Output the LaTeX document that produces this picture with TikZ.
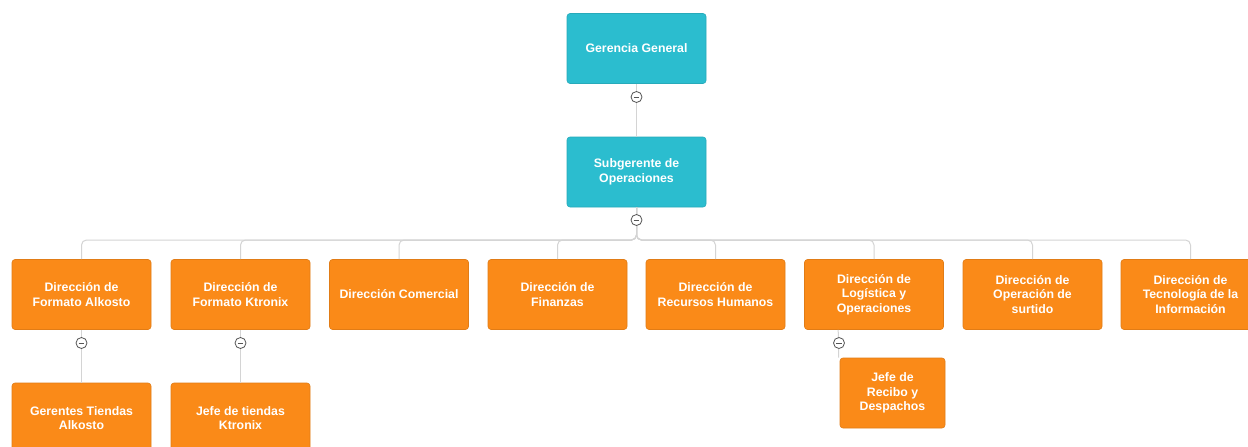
\documentclass[tikz,border=0pt]{standalone}
\usepackage{fontspec}
\setmainfont{Liberation Sans}
\definecolor{teal1}{HTML}{2BBDCF}
\definecolor{orange1}{HTML}{FA8A18}
\definecolor{linec}{HTML}{D4D4D4}
\definecolor{circc}{HTML}{555555}
\tikzset{
  box/.style={rounded corners=3pt, minimum width=139pt, minimum height=70pt, inner sep=2pt,
    align=center, text=white, font=\fontsize{12.3}{14.7}\selectfont\bfseries, line width=0.6pt},
  topbox/.style={box, fill=teal1, draw=teal1!90!black},
  orbox/.style={box, fill=orange1, draw=orange1!90!black},
  conn/.style={draw=linec, line width=1pt},
  tog/.style={circle, draw=circc, fill=white, line width=0.8pt, minimum size=11pt, inner sep=0pt,
    path picture={\draw[circc, line width=0.9pt] ([xshift=-2.8pt]path picture bounding box.center) -- ([xshift=2.8pt]path picture bounding box.center);}}
}
\begin{document}
\begin{tikzpicture}[x=1pt,y=1pt]
\useasboundingbox[fill=white] (0,0) rectangle (1248,-447);
% top nodes
\node[topbox] (gg) at (636.5,-48.5) {Gerencia General};
\node[topbox] (sub) at (636.5,-172) {Subgerente de\\Operaciones};
% row 2
\node[orbox] (d1) at (81.5,-294.5) {Dirección de\\Formato Alkosto};
\node[orbox] (d2) at (240.5,-294.5) {Dirección de\\Formato Ktronix};
\node[orbox] (d3) at (399,-294.5) {Dirección Comercial};
\node[orbox] (d4) at (557.5,-294.5) {Dirección de\\Finanzas};
\node[orbox] (d5) at (715.5,-294.5) {Dirección de\\Recursos Humanos};
\node[orbox] (d6) at (874,-294.5) {Dirección de\\Logística y\\Operaciones};
\node[orbox] (d7) at (1032.5,-294.5) {Dirección de\\Operación de\\surtido};
\node[orbox] (d8) at (1190.5,-294.5) {Dirección de\\Tecnología de la\\Información};
% row 3
\node[orbox] (e1) at (81.5,-418) {Gerentes Tiendas\\Alkosto};
\node[orbox] (e2) at (240.5,-418) {Jefe de tiendas\\Ktronix};
\node[orbox, minimum width=105pt] (e6) at (892.5,-393) {Jefe de\\Recibo y\\Despachos};
% connectors
\coordinate (bar) at (636.5,-240);
\draw[conn] (gg.south) -- (sub.north);
\foreach \d in {d1,d2,d3,d4,d5,d6,d7,d8}{
  \draw[conn, rounded corners=5pt] (sub.south) -- (bar) -| (\d.north);
}
\draw[conn] (d1.south) -- (e1.north);
\draw[conn] (d2.south) -- (e2.north);
\draw[conn] ([xshift=34pt]d6.south west) -- ([xshift=-1pt]e6.north west);
% toggles
\node[tog] (t0) at (636.5,-97) {};
\node[tog] (t1) at (636.5,-220) {};
\node[tog] (t2) at (81.5,-343) {};
\node[tog] (t3) at (240.5,-343) {};
\node[tog] (t4) at (839,-343) {};
\end{tikzpicture}
\end{document}
